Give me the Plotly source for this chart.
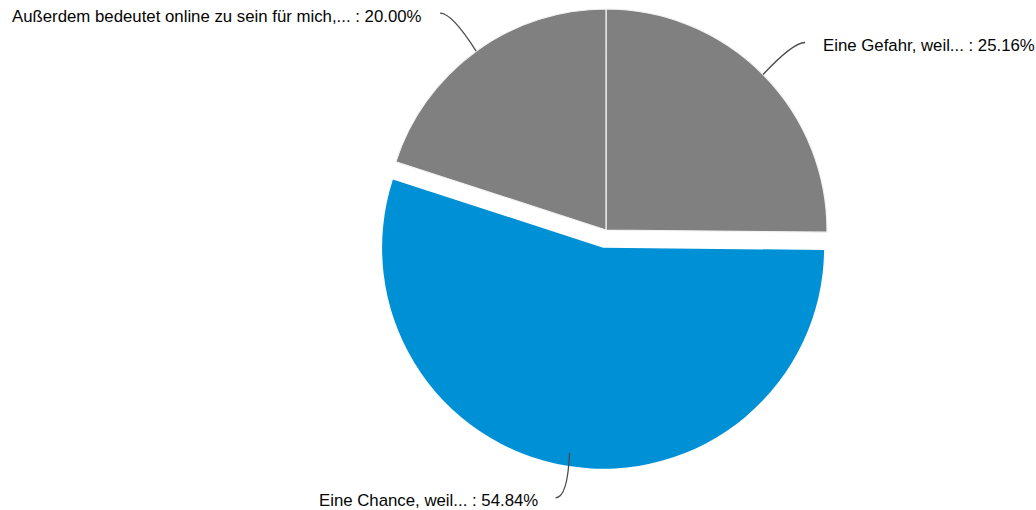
import math
import plotly.graph_objects as go

# --- data -------------------------------------------------------------
labels = [
    "Eine Gefahr, weil...",
    "Eine Chance, weil...",
    "Außerdem bedeutet online zu sein für mich,...",
]
values = [25.16, 54.84, 20.00]

# --- styling / layout -------------------------------------------------
W, H = 1036, 510
colors = ["#808080", "#0090D6", "#808080"]
pulled = [False, True, False]          # blue slice is exploded
CX, CY, R = 606, 230, 221              # pie centre and radius (px)
PULL_PX = 18                           # explode distance (px)
# where each leader line starts (fraction of radius) and where it ends
anchor_frac = [1.0, 0.94, 1.0]
leader_end_offset = [(42, -32), (-14, 45), (-36, -38)]
LABEL_GAP = 16
line_color = "#4a4a4a"
text_color = "#050505"
font_family = "Liberation Sans, Arial, sans-serif"
FONT_SIZE = 16.8

total = sum(values)
fractions = [v / total for v in values]

# slice geometry: clockwise from 12 o'clock
starts = []
acc = 0.0
for f in fractions:
    starts.append(acc)
    acc += f
mid_angles = [2 * math.pi * (s + f / 2) for s, f in zip(starts, fractions)]


def centre_of(i):
    if pulled[i]:
        a = mid_angles[i]
        return CX + PULL_PX * math.sin(a), CY - PULL_PX * math.cos(a)
    return CX, CY


def domain_for(cx, cy):
    return dict(
        x=[(cx - R) / W, (cx + R) / W],
        y=[1 - (cy + R) / H, 1 - (cy - R) / H],
    )


fig = go.Figure()

# one pie per centre: slices drawn elsewhere are left transparent
for group in (False, True):
    idx = [i for i in range(len(values)) if pulled[i] == group]
    cx, cy = centre_of(idx[0])
    slice_colors = [colors[i] if pulled[i] == group else "rgba(0,0,0,0)"
                    for i in range(len(values))]
    line_w = [1.2 if (pulled[i] == group and not pulled[i]) else 0
              for i in range(len(values))]
    fig.add_trace(go.Pie(
        labels=labels,
        values=values,
        sort=False,
        direction="clockwise",
        rotation=0,
        textinfo="none",
        hoverinfo="label+percent",
        marker=dict(colors=slice_colors,
                    line=dict(color="#f2f2f2", width=line_w)),
        domain=domain_for(cx, cy),
        showlegend=False,
    ))

# leader lines and labels, placed in a pixel-space overlay
shapes = []
annotations = []
for i, (lab, v) in enumerate(zip(labels, values)):
    cx, cy = centre_of(i)
    a = mid_angles[i]
    ax_ = cx + R * anchor_frac[i] * math.sin(a)
    ay_ = cy - R * anchor_frac[i] * math.cos(a)
    ex = ax_ + leader_end_offset[i][0]
    ey = ay_ + leader_end_offset[i][1]
    ctrl_x = ex + max(-12, min(12, ax_ - ex))
    shapes.append(dict(
        type="path", xref="x", yref="y",
        path=f"M {ax_:.2f},{ay_:.2f} Q {ctrl_x:.2f},{ey:.2f} {ex:.2f},{ey:.2f}",
        line=dict(color=line_color, width=1.3),
    ))
    right_side = ex > ax_
    annotations.append(dict(
        xref="x", yref="y",
        x=ex + (LABEL_GAP if right_side else -LABEL_GAP),
        y=ey + 3,
        text=f"{lab} : {v:.2f}%",
        showarrow=False,
        xanchor="left" if right_side else "right",
        yanchor="middle",
        font=dict(family=font_family, size=FONT_SIZE, color=text_color),
    ))

fig.update_layout(
    width=W, height=H,
    margin=dict(l=0, r=0, t=0, b=0),
    paper_bgcolor="white",
    plot_bgcolor="rgba(0,0,0,0)",
    xaxis=dict(range=[0, W], visible=False, fixedrange=True),
    yaxis=dict(range=[H, 0], visible=False, fixedrange=True),
    shapes=shapes,
    annotations=annotations,
)

fig.write_html("out.html")
